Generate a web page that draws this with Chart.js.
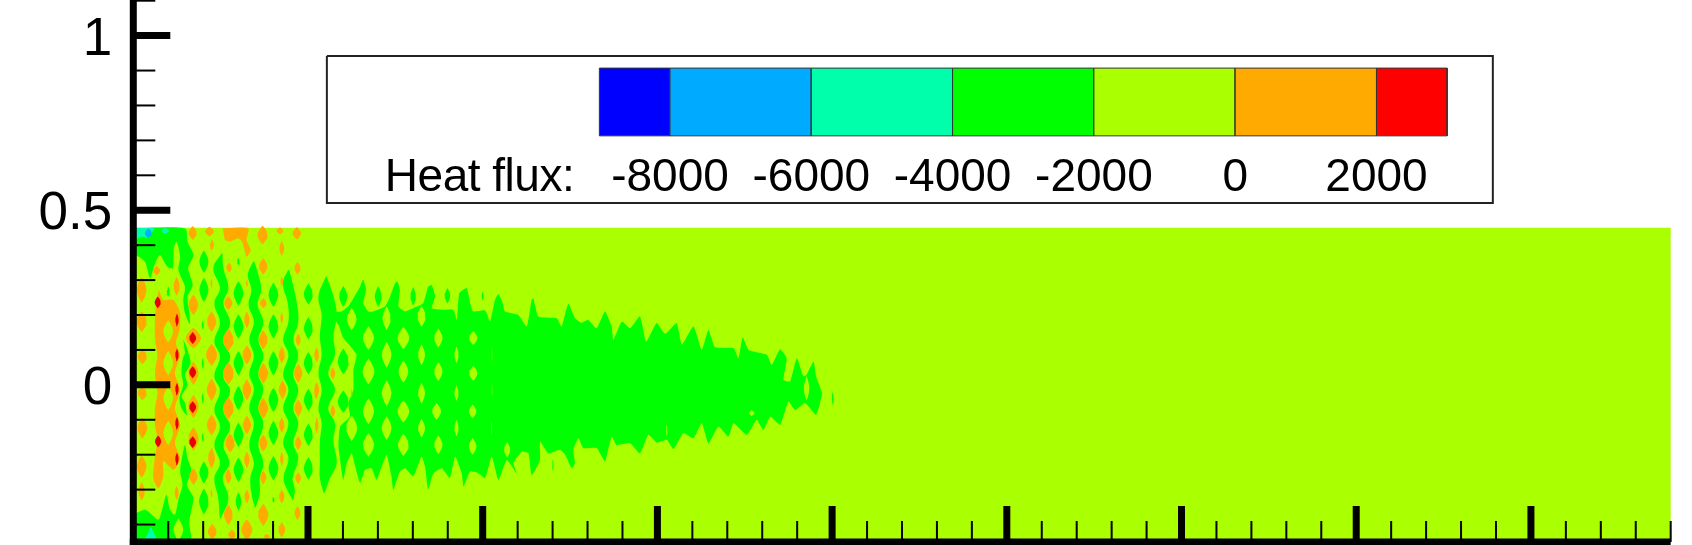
<!DOCTYPE html>
<html>
<head>
<meta charset="utf-8">
<style>
  html, body { margin: 0; padding: 0; background: #fff; overflow: hidden; }
  canvas { display: block; }
</style>
<script src="https://cdn.jsdelivr.net/npm/chart.js@4"></script>
</head>
<body>
<canvas id="myChart" width="1692" height="545"></canvas>
<script>
// Heat flux contours. Everything is in axis units.

const yLabelTicks = [0, 0.5, 1];
const yMinorTicks = [-0.4, -0.3, -0.2, -0.1, 0.1, 0.2, 0.3, 0.4, 0.6, 0.7, 0.8, 0.9, 1.1];
const xMajorTicks = [0.5, 1, 1.5, 2, 2.5, 3, 3.5, 4];
const xMinorTicks = [0.1, 0.2, 0.3, 0.4, 0.6, 0.7, 0.8, 0.9, 1.1, 1.2, 1.3, 1.4, 1.6, 1.7, 1.8, 1.9,
  2.1, 2.2, 2.3, 2.4, 2.6, 2.7, 2.8, 2.9, 3.1, 3.2, 3.3, 3.4, 3.6, 3.7, 3.8, 3.9, 4.1, 4.2, 4.3, 4.4];

// colour bar
const fluxEdges = [-9000, -8000, -6000, -4000, -2000, 0, 2000, 3000];
const fluxColors = ['#0000ff', '#00aaff', '#00ffaa', '#00ff00', '#aaff00', '#ffaa00', '#ff0000'];
const fluxLabels = [-8000, -6000, -4000, -2000, 0, 2000];
const fluxTitle = 'Heat flux:';

const fieldOutline = [[0, 0.45], [4.4, 0.45], [4.4, -0.45], [0, -0.45]];

// green band, closed outlines
const greenTopLeft = [[0, .448], [.148, .448], [.155, .410], [.172, .372], [.157, .334], [.170, .286], [.155, .253], [.160, .210], [.162, .174],
  [.148, .205], [.143, .243], [.148, .281], [.129, .329], [.134, .367], [.124, .410], [.116, .391], [.113, .334], [.097, .339], [.076, .372],
  [.059, .339], [.048, .305], [.033, .353], [0, .377]];
const greenBottomLeft = [[0, -.45], [.162, -.45], [.160, -.391], [.172, -.324], [.153, -.286], [.167, -.248], [.155, -.210], [.148, -.172],
  [.141, -.200], [.134, -.248], [.141, -.286], [.129, -.329], [.119, -.372], [.105, -.358], [.095, -.315], [.081, -.363], [.072, -.386],
  [.053, -.372], [.033, -.358], [0, -.372]];
const greenZigzag = [[.143, .131], [.155, .100], [.164, .062], [.148, .029], [.155, 0], [.138, -.033], [.148, -.052], [.153, -.086],
  [.138, -.067], [.132, -.038], [.143, 0], [.138, .033], [.141, .072], [.148, .091]];
const greenCore = [[.563, .210], [.596, .210], [.615, .224], [.630, .248], [.649, .281], [.658, .302], [.666, .272], [.658, .234], [.673, .210],
  [.687, .210], [.720, .224], [.733, .248], [.749, .291], [.756, .296], [.763, .272], [.759, .224], [.778, .210], [.811, .224], [.830, .234],
  [.844, .281], [.854, .286], [.864, .253], [.854, .219], [.883, .215], [.916, .215], [.926, .186], [.933, .262], [.954, .277], [.964, .234],
  [.973, .210], [1.007, .213], [1.021, .181], [1.035, .243], [1.045, .260], [1.057, .234], [1.064, .210], [1.102, .200], [1.126, .167],
  [1.140, .243], [1.145, .248], [1.159, .196], [1.212, .191], [1.226, .167], [1.245, .232], [1.264, .191], [1.283, .178], [1.302, .186],
  [1.326, .162], [1.350, .210], [1.369, .167], [1.374, .129], [1.398, .181], [1.422, .162], [1.450, .196], [1.468, .124], [1.498, .177],
  [1.522, .146], [1.555, .177], [1.570, .115], [1.603, .167], [1.627, .100], [1.646, .157], [1.665, .108], [1.718, .105], [1.732, .076],
  [1.744, .136], [1.761, .100], [1.813, .086], [1.827, .057], [1.851, .102], [1.870, .076], [1.861, .014], [1.880, .010], [1.899, .076],
  [1.918, .024], [1.927, .029], [1.947, .067], [1.954, .024], [1.971, -.024], [1.954, -.086], [1.923, -.052], [1.894, -.072], [1.875, -.048],
  [1.851, -.115], [1.823, -.091], [1.803, -.129], [1.784, -.100], [1.756, -.143], [1.718, -.110], [1.703, -.148], [1.675, -.119], [1.646, -.167],
  [1.627, -.110], [1.603, -.153], [1.574, -.138], [1.546, -.184], [1.527, -.157], [1.498, -.165], [1.474, -.143], [1.450, -.196], [1.422, -.167],
  [1.383, -.172], [1.369, -.148], [1.350, -.219], [1.326, -.181], [1.288, -.181], [1.274, -.153], [1.259, -.186], [1.264, -.224], [1.255, -.239],
  [1.236, -.200], [1.221, -.186], [1.188, -.196], [1.164, -.162], [1.164, -.215], [1.140, -.258], [1.131, -.196], [1.112, -.191], [1.088, -.224],
  [1.097, -.253], [1.069, -.215], [1.045, -.272], [1.026, -.205], [1.007, -.267], [.988, -.253], [.964, -.248], [.945, -.291], [.940, -.253],
  [.921, -.205], [.906, -.267], [.883, -.239], [.859, -.253], [.844, -.299], [.835, -.234], [.825, -.205], [.801, -.262], [.778, -.239],
  [.763, -.248], [.744, -.301], [.739, -.262], [.725, -.200], [.711, -.234], [.696, -.272], [.682, -.239], [.663, -.243], [.649, -.281],
  [.634, -.229], [.625, -.196], [.611, -.224], [.601, -.272], [.592, -.215], [.587, -.176], [.592, -.119], [.620, -.091], [.615, -.052],
  [.630, -.014], [.630, .043], [.639, .086], [.620, .112], [.601, .134], [.587, .172], [.572, .196]];

// wavy green stripes, rows of [y, left x, right x]
const stripeTwo = [[.377, .253, .255], [.334, .229, .258], [.277, .248, .272], [.234, .232, .258], [.178, .248, .277], [.124, .232, .258],
  [.081, .248, .277], [.024, .232, .258], [-.016, .248, .277], [-.072, .232, .258], [-.119, .248, .277], [-.172, .232, .258],
  [-.224, .248, .275], [-.267, .232, .256], [-.324, .243, .272], [-.382, .248, .250]];
const stripeThree = [[.353, .343, .346], [.315, .328, .358], [.272, .338, .366], [.229, .330, .356], [.181, .345, .372], [.129, .332, .358],
  [.083, .345, .372], [.031, .332, .358], [-.012, .345, .372], [-.067, .332, .358], [-.110, .345, .372], [-.172, .332, .358],
  [-.224, .345, .372], [-.267, .335, .362], [-.310, .338, .362], [-.351, .348, .350]];
const stripeFour = [[.329, .443, .446], [.291, .428, .456], [.234, .442, .468], [.181, .444, .472], [.129, .429, .458], [.086, .444, .472],
  [.029, .429, .458], [-.014, .444, .472], [-.067, .429, .458], [-.110, .444, .472], [-.167, .429, .458], [-.210, .444, .472],
  [-.267, .430, .456], [-.300, .440, .462], [-.329, .456, .458]];
const stripeFive = [[.310, .551, .553], [.253, .530, .573], [.200, .539, .582], [.138, .534, .573], [.086, .539, .577], [.033, .530, .558],
  [-.014, .539, .577], [-.067, .530, .558], [-.110, .539, .577], [-.162, .534, .573], [-.224, .534, .582], [-.267, .534, .563], [-.310, .545, .547]];

// small closed contours, rows of [x, y, half width, half height]
const greenIslands = [[.202, .353, .013, .032], [.202, .272, .013, .035], [.202, -.251, .013, .032], [.202, -.334, .014, .037],
  [.301, .353, .004, .010], [.301, .262, .014, .035], [.301, .167, .014, .035], [.301, .062, .014, .035], [.301, -.038, .014, .035],
  [.301, -.143, .014, .035], [.301, -.243, .014, .035], [.301, -.334, .008, .027],
  [.401, .258, .014, .035], [.401, .167, .014, .035], [.401, .062, .014, .035], [.401, -.043, .014, .035], [.401, -.138, .014, .035],
  [.401, -.239, .014, .035], [.401, -.329, .003, .008],
  [.501, .260, .013, .030], [.501, .162, .013, .032], [.501, .062, .013, .032], [.501, -.043, .013, .032], [.501, -.143, .013, .032], [.501, -.239, .013, .032],
  [.100, .267, .004, .015], [.199, .172, .003, .012], [.199, .062, .003, .015], [.199, -.038, .003, .015], [.199, -.150, .003, .012],
  [.601, .253, .012, .030], [.701, .253, .010, .030], [.801, .253, .008, .027], [.899, .255, .008, .022], [1.000, .255, .003, .012],
  [.601, .067, .016, .037], [.601, -.048, .016, .032], [1.201, -.229, .002, .015], [2.002, -.038, .003, .018]];

const limeHoles = [[.625, .188, .014, .032], [.725, .191, .012, .034], [.825, .196, .012, .030], [.673, .134, .016, .034], [.773, .134, .017, .032],
  [.873, .134, .012, .027], [.973, .134, .012, .020], [.725, .086, .014, .037], [.825, .086, .010, .030], [.925, .086, .006, .024], [1.027, .086, .001, .020],
  [.673, .038, .017, .037], [.773, .038, .014, .032], [.873, .038, .012, .027], [.973, .033, .012, .022],
  [.725, -.024, .014, .037], [.825, -.024, .010, .030], [.925, -.024, .006, .022], [1.027, -.014, .001, .018],
  [.673, -.076, .016, .037], [.773, -.076, .017, .032], [.868, -.076, .013, .024], [.971, -.076, .011, .020],
  [.625, -.124, .016, .037], [.725, -.124, .014, .034], [.825, -.124, .010, .027], [.925, -.124, .006, .024], [1.026, -.124, .001, .020],
  [.673, -.172, .016, .034], [.773, -.172, .016, .032], [.873, -.172, .012, .027], [.971, -.176, .011, .024], [1.070, -.186, .009, .022],
  [1.927, -.010, .008, .035], [1.770, -.081, .008, .008], [1.274, .153, .001, .025], [1.527, -.129, .002, .015], [.129, -.415, .014, .032]];

const orangeTopPatch = [[.256, .448], [.329, .448], [.324, .415], [.336, .386], [.324, .367], [.313, .406], [.301, .420], [.277, .410], [.262, .415]];
const orangeMass = [[.073, .272], [.086, .243], [.115, .243], [.134, .205], [.132, .157], [.122, .119], [.134, .086], [.119, .033], [.134, -.014],
  [.119, -.067], [.134, -.115], [.119, -.167], [.134, -.210], [.115, -.243], [.086, -.219], [.086, -.262], [.072, -.296], [.057, -.267], [.062, -.205],
  [.069, -.157], [.062, -.115], [.062, -.067], [.069, -.024], [.062, .033], [.069, .086], [.062, .129], [.062, .186], [.065, .234]];
const orangeIslands = [[.170, .435, .012, .020], [.218, .439, .013, .014], [.370, .429, .015, .027], [.420, .441, .010, .010], [.468, .434, .012, .018],
  [.225, .401, .006, .016], [.425, .391, .007, .022], [.274, .336, .008, .014], [.372, .339, .012, .024], [.470, .334, .009, .018], [.067, .327, .010, .014],
  [.024, .272, .014, .037], [.124, .282, .009, .027], [.172, .229, .014, .030], [.272, .234, .012, .020], [.372, .234, .010, .014],
  [.224, .291, .003, .013], [.325, .291, .003, .010], [.425, .296, .004, .013], [.224, .181, .013, .030], [.325, .186, .008, .024], [.425, .191, .004, .016], [.024, .181, .015, .030],
  [.026, .081, .013, .022], [.026, -.024, .013, .020], [.026, -.124, .014, .030],
  [.272, .129, .016, .032], [.372, .129, .013, .027], [.472, .129, .007, .018],
  [.224, .086, .016, .032], [.325, .086, .013, .027], [.425, .086, .009, .024], [.525, .086, .006, .022],
  [.272, .033, .016, .032], [.372, .033, .014, .030], [.472, .033, .012, .027],
  [.224, -.014, .014, .032], [.325, -.014, .013, .030], [.427, -.014, .011, .027], [.525, -.014, .007, .022],
  [.272, -.067, .016, .032], [.372, -.067, .014, .030], [.472, -.067, .011, .024],
  [.224, -.115, .014, .030], [.325, -.115, .012, .027], [.425, -.115, .008, .022], [.525, -.115, .005, .022],
  [.172, .134, .022, .030], [.172, .033, .015, .034], [.172, -.062, .015, .034], [.172, -.155, .015, .034],
  [.024, -.305, .009, .027], [.024, -.234, .014, .032], [.124, -.310, .006, .020],
  [.172, -.263, .012, .024], [.272, -.262, .009, .022], [.372, -.265, .009, .020], [.472, -.267, .008, .017],
  [.224, -.210, .010, .030], [.325, -.215, .008, .024], [.425, -.212, .005, .020],
  [.277, -.167, .014, .027], [.372, -.167, .012, .024], [.472, -.167, .009, .020],
  [.325, -.320, .007, .020], [.425, -.320, .008, .020], [.224, -.310, .003, .012],
  [.272, -.372, .013, .029], [.372, -.372, .015, .032], [.470, -.367, .009, .020],
  [.226, -.420, .013, .022], [.325, -.415, .016, .030], [.425, -.415, .010, .022], [.282, -.429, .011, .014], [.382, -.434, .009, .007],
  [.523, .086, .005, .018], [.571, .033, .007, .018], [.523, -.024, .005, .018], [.571, -.076, .007, .018], [.525, -.124, .002, .015], [.625, -.024, .002, .015]];
const orangeHoles = [[.100, .153, .014, .032], [.100, .062, .014, .035], [.100, -.038, .014, .035], [.100, -.138, .014, .035]];

const redIslands = [[.170, .134, .010, .017], [.170, .036, .010, .017], [.170, -.064, .010, .017], [.170, -.164, .010, .017],
  [.070, .236, .009, .017], [.071, -.162, .009, .017], [.125, .186, .005, .018], [.125, .086, .005, .018], [.125, -.012, .005, .018],
  [.125, -.110, .005, .018], [.125, -.212, .005, .018]];

// corners of the field
const tealTopCorner = [[0, .45], [.062, .45], [.045, .420], [.025, .425], [0, .415]];
const tealBottomCorner = [[.050, -.406], [.072, -.45], [.029, -.45]];
const tealIslands = [[.091, .441, .012, .008]];
const skyIslands = [[.043, .434, .010, .014]];

// legend box and bar, in axis y units (bar x comes from fluxEdges)
const legendBox = [[.554, .942], [3.891, .942], [3.891, .521], [.554, .521], [.554, .942]];
const barTop = .907, barBottom = .713, legendTextY = .555, fluxTitleX = .720;

const FONT = '"Liberation Sans", Arial, sans-serif';
const INK = '#000000';

const toPts = rows => rows.map(r => ({ x: r[0], y: r[1] }));

function stripePts(rows) {
  const left = rows.map(r => ({ x: r[1], y: r[0] }));
  const right = rows.map(r => ({ x: r[2], y: r[0] })).reverse();
  return left.concat(right);
}

// pointed lens round a centre
function lensPts(r) {
  const shape = [[0, 1], [.45, .7], [.85, .32], [1, 0], [.85, -.32], [.45, -.7], [0, -1], [-.45, -.7], [-.85, -.32], [-1, 0], [-.85, .32], [-.45, .7]];
  return shape.map(s => ({ x: r[0] + s[0] * r[2], y: r[1] + s[1] * r[3] }));
}

const datasets = [];
function addShape(pts, color, extra) {
  datasets.push(Object.assign({
    data: pts,
    showLine: true,
    fill: 'shape',
    backgroundColor: color,
    borderWidth: 0,
    pointRadius: 0,
    tension: 0,
    order: -datasets.length
  }, extra));
}

addShape(toPts(fieldOutline), '#aaff00');
[greenTopLeft, greenBottomLeft, greenZigzag].forEach(o => addShape(toPts(o), '#00ff00', { tension: 0.25 }));
addShape(toPts(greenCore), '#00ff00', { tension: 0.15 });
[stripeTwo, stripeThree, stripeFour, stripeFive].forEach(s => addShape(stripePts(s), '#00ff00', { tension: 0.4 }));
greenIslands.forEach(r => addShape(lensPts(r), '#00ff00'));
limeHoles.forEach(r => addShape(lensPts(r), '#aaff00'));
[orangeTopPatch, orangeMass].forEach(o => addShape(toPts(o), '#ffaa00', { tension: 0.25 }));
orangeIslands.forEach(r => addShape(lensPts(r), '#ffaa00'));
orangeHoles.forEach(r => addShape(lensPts(r), '#aaff00'));
redIslands.forEach(r => addShape(lensPts(r), '#e60000'));
[tealTopCorner, tealBottomCorner].forEach(o => addShape(toPts(o), '#00ffaa'));
tealIslands.forEach(r => addShape(lensPts(r), '#00ffaa'));
skyIslands.forEach(r => addShape(lensPts(r), '#00aaff'));

addShape(toPts(legendBox), '#ffffff', { borderWidth: 2, borderColor: '#222222' });
fluxColors.forEach((c, i) => {
  const a = fluxEdges[i], b = fluxEdges[i + 1];
  addShape([{ x: a, y: barTop }, { x: b, y: barTop }, { x: b, y: barBottom }, { x: a, y: barBottom }, { x: a, y: barTop }], c,
    { xAxisID: 'xFlux', borderWidth: 1, borderColor: '#333333' });
});

// axis lines, inward ticks and all the text
const tecplotAxes = {
  id: 'tecplotAxes',
  afterDatasetsDraw(chart) {
    const ctx = chart.ctx, x = chart.scales.x, y = chart.scales.y, flux = chart.scales.xFlux;
    const x0 = x.getPixelForValue(0), y0 = y.getPixelForValue(-0.45);
    ctx.save();
    ctx.strokeStyle = INK;
    function seg(x1, y1, x2, y2, w) {
      ctx.lineWidth = w;
      ctx.beginPath();
      ctx.moveTo(x1, y1);
      ctx.lineTo(x2, y2);
      ctx.stroke();
    }
    yLabelTicks.forEach(v => seg(x0, y.getPixelForValue(v), x0 + 37, y.getPixelForValue(v), 7));
    yMinorTicks.forEach(v => seg(x0, y.getPixelForValue(v), x0 + 22, y.getPixelForValue(v), 2));
    xMajorTicks.forEach(v => seg(x.getPixelForValue(v), y0, x.getPixelForValue(v), y0 - 36, 7));
    xMinorTicks.forEach(v => seg(x.getPixelForValue(v), y0, x.getPixelForValue(v), y0 - 21, 2));
    seg(x0, 0, x0, 545, 7);
    seg(x0 - 3.5, y0, x.getPixelForValue(4.4), y0, 7);

    ctx.fillStyle = INK;
    ctx.textBaseline = 'alphabetic';
    ctx.font = '53px ' + FONT;
    ctx.textAlign = 'right';
    yLabelTicks.forEach(v => ctx.fillText(String(v), x0 - 21, y.getPixelForValue(v) + 19));

    ctx.font = '46px ' + FONT;
    const ty = y.getPixelForValue(legendTextY);
    ctx.textAlign = 'left';
    ctx.letterSpacing = '-0.5px';
    ctx.fillText(fluxTitle, x.getPixelForValue(fluxTitleX), ty);
    ctx.letterSpacing = '0px';
    ctx.textAlign = 'center';
    fluxLabels.forEach(v => ctx.fillText(String(v), flux.getPixelForValue(v), ty));
    ctx.restore();
  }
};

new Chart(document.getElementById('myChart'), {
  type: 'scatter',
  data: { datasets: datasets },
  plugins: [tecplotAxes],
  options: {
    responsive: false,
    animation: false,
    events: [],
    devicePixelRatio: 1,
    layout: { padding: { left: 0, right: 0, top: 0, bottom: 3 } },
    plugins: { legend: { display: false }, tooltip: { enabled: false }, title: { display: false } },
    scales: {
      x: {
        type: 'linear', min: 0, max: 4.461,
        grid: { display: false }, border: { display: false },
        ticks: { display: false },
        afterFit: s => { s.height = 0; s.paddingLeft = 0; s.paddingRight = 0; }
      },
      xFlux: { type: 'linear', display: false, position: 'top', min: -15597, max: 6466 },
      y: {
        type: 'linear', min: -0.45, max: 1.102,
        grid: { display: false }, border: { display: false },
        ticks: { display: false },
        afterFit: s => { s.width = 133.3; s.paddingTop = 0; s.paddingBottom = 0; }
      }
    }
  }
});
</script>
</body>
</html>
